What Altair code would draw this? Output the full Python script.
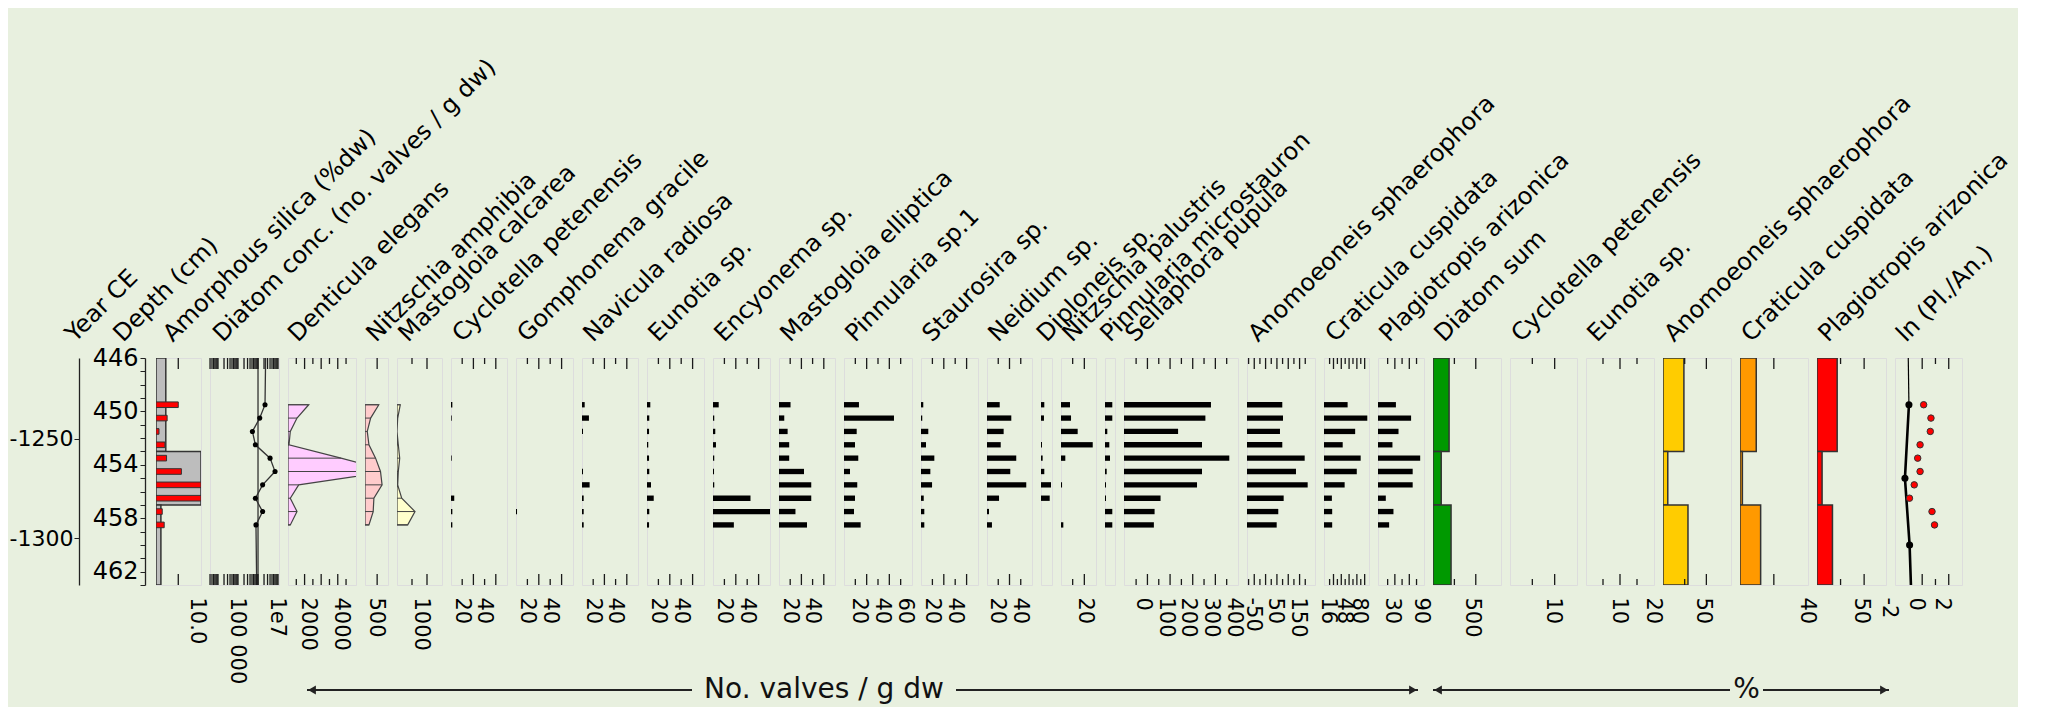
import altair as alt
import pandas as pd

FONT = "DejaVu Sans"
BG = "#e8f0df"
H = 227
GAP = 9
TS, TL = 6, 11
TICK_COLOR = "#1a1a1a"

# ---------------- data ----------------
depth = [449.5, 450.5, 451.5, 452.5, 453.5, 454.5, 455.5, 456.5, 457.5, 458.5]
zone_top = [446, 453, 457]
zone_bottom = [453, 457, 463]
depth_tick_values = list(range(446, 464))
depth_label_values = [446, 450, 454, 458, 462]
year_label_values = [-1250, -1300]

amorphous_silica = [5.0, 2.5, 0.67, 2.0, 2.37, 5.7, 10.1, 10.1, 1.4, 1.84]
amorphous_silica_zone = [2.2, 10.1, 1.1]
diatom_conc = [2.24e6, 1.22e6, 5.25e5, 7.4e5, 4.0e6, 7.1e6, 1.7e6, 7.4e5, 1.7e6, 7.9e5]
diatom_conc_ends = [2.4e6, 8.6e5]
diatom_conc_reference = [1e6]
denticula_elegans = [1248, 543, 139, 60, 3196, 6151, 645, 139, 543, 139]
nitzschia_amphibia = [569, 232, 93, 163, 435, 638, 703, 366, 337, 163]
mastogloia_calcarea = [110, 23, 0, 43, 90, 43, 23, 157, 600, 357]
cyclotella_petenensis = [1.2, 0.6, 0, 0, 0.6, 0, 0, 2.9, 1.2, 1.2]
gomphonema_gracile = [0, 0, 0, 0, 0, 0, 0, 0, 0.9, 0]
navicula_radiosa = [2.4, 6.2, 0.9, 0, 0, 0.9, 6.8, 1.5, 1.5, 1.5]
eunotia_sp = [2.9, 2.0, 1.8, 1.1, 1.8, 2.0, 3.5, 5.9, 2.0, 1.8]
encyonema_sp = [5.0, 1.1, 2.0, 2.6, 1.1, 0.9, 1.1, 32.9, 50.5, 18.3]
mastogloia_elliptica = [10.3, 4.7, 7.7, 9.1, 9.1, 22.3, 28.8, 28.8, 14.7, 25.0]
pinnularia_sp1 = [13.2, 44.1, 11.2, 9.7, 12.6, 5.3, 11.7, 9.7, 8.8, 14.7]
staurosira_sp = [2.0, 1.1, 6.4, 4.4, 11.7, 8.2, 9.7, 2.4, 2.9, 2.9]
neidium_sp = [11.3, 21.6, 14.8, 12.2, 26.0, 20.7, 34.9, 10.7, 1.8, 4.4]
diploneis_sp = [3.0, 2.7, 0, 0.9, 1.5, 3.0, 9.1, 7.9, 0, 0]
nitzschia_palustris = [7.7, 8.6, 14.3, 27.2, 3.7, 0, 0.9, 0, 0, 2.0]
pinnularia_microstauron = [7.3, 7.3, 2.3, 4.3, 5.0, 1.7, 1.0, 1.0, 7.3, 7.3]
sellaphora_pupula = [280.6, 256.0, 135.4, 241.0, 361.6, 241.0, 219.0, 58.0, 31.6, 28.5]
anomoeoneis_conc = [73.7, 76.8, 63.5, 73.7, 172.5, 134.1, 185.7, 79.8, 56.0, 49.0]
craticula_conc = [45.0, 85.4, 60.5, 34.9, 71.8, 63.8, 38.9, 12.7, 13.3, 13.3]
plagiotropis_conc = [32.2, 63.7, 37.6, 25.0, 82.6, 67.0, 67.0, 11.2, 27.1, 18.1]
diatom_sum = [188, 96, 211]
cyclotella_pct = [0, 0, 0]
eunotia_pct = [0, 0, 0]
anomoeoneis_pct = [24.1, 5.5, 28.8]
craticula_pct = [9.6, 1.4, 12.2]
plagiotropis_pct = [21.4, 5.4, 16.4]
ln_ratio = [0.11, 0.66, 0.61, -0.16, -0.34, -0.16, -0.6, -0.96, 0.74, 0.93]
ln_smooth_depth = [446, 449.5, 455, 460, 463]
ln_smooth = [-1.05, -1.0, -1.3, -0.95, -0.85]

DEPTH_SCALE = alt.Scale(domain=[446, 463], reverse=True, nice=False, zero=False)


def Y(f, axis=None):
    return alt.Y(f, type="quantitative", scale=DEPTH_SCALE, axis=axis)


def label_axis(values, offset, expr=None):
    kw = dict(orient="bottom", ticks=False, domain=False, grid=False,
              labelAngle=90, labelAlign="left", labelBaseline="middle", labelPadding=12,
              labelFont=FONT, labelFontSize=21, labelColor="black", labelOffset=offset,
              labelFlush=False, labelOverlap=False, labelBound=False, title=None, tickCount=100,
              labelExpr=expr if expr else "'' + datum.value")
    if values:
        kw["values"] = values
    else:
        kw["labels"] = False
    return alt.Axis(**kw)


def bars(vals, color="black", stroke=None, half=0.2):
    def f(X, base):
        df = pd.DataFrame({"d": depth, "v": vals})
        mk = dict(color=color, clip=True)
        if stroke:
            mk.update(stroke=stroke, strokeWidth=1)
        return (alt.Chart(df).transform_filter("datum.v > 0")
                .transform_calculate(d0=f"datum.d - {half}", d1=f"datum.d + {half}")
                .mark_rect(**mk)
                .encode(x=X("v"), x2=alt.value(0), y=Y("d0"), y2="d1:Q"))
    return f


def zones(vals, fill, axis_y=None):
    def f(X, base):
        df = pd.DataFrame({"top": zone_top, "bottom": zone_bottom, "v": vals})
        return (alt.Chart(df).transform_filter("datum.v > 0")
                .mark_rect(fill=fill, stroke="#333", strokeWidth=1.5, clip=True)
                .encode(x=X("v"), x2=alt.value(0), y=Y("top", axis_y), y2="bottom:Q"))
    return f


def curve(vals, fill):
    def f(X, base):
        df = pd.DataFrame({"d": depth, "v": vals})
        area = (alt.Chart(df).transform_calculate(b=f"{base}")
                .mark_area(orient="horizontal", fill=fill, stroke="#444", strokeWidth=1.2,
                           clip=True, fillOpacity=1, interpolate="linear")
                .encode(y=Y("d"), x=X("v"), x2="b:Q"))
        hatch = (alt.Chart(df).mark_rule(color="#444", strokeWidth=1, clip=True)
                 .encode(x=X("v"), x2=alt.value(0), y=Y("d")))
        return alt.layer(area, hatch)
    return f


def conc_content(X, base):
    ext = pd.DataFrame({"d": [446] + depth + [463],
                        "v": [diatom_conc_ends[0]] + diatom_conc + [diatom_conc_ends[1]]})
    pts = pd.DataFrame({"d": depth, "v": diatom_conc})
    ref = pd.DataFrame({"v": diatom_conc_reference})
    rule = alt.Chart(ref).mark_rule(color="#222", strokeWidth=1.2).encode(
        x=X("v"), y=alt.value(0), y2=alt.value(H))
    line = alt.Chart(ext).mark_line(color="#333", strokeWidth=1.3).encode(
        x=X("v"), y=Y("d"), order=alt.Order("d:Q"))
    dots = alt.Chart(pts).mark_circle(color="black", size=26, opacity=1).encode(x=X("v"), y=Y("d"))
    return alt.layer(rule, line, dots)


def ln_content(X, base):
    thin_df = pd.DataFrame({"d": ln_smooth_depth[:2], "v": ln_smooth[:2]})
    thick_df = pd.DataFrame({"d": ln_smooth_depth[1:], "v": ln_smooth[1:]})
    dots_df = pd.DataFrame({"d": ln_smooth_depth[1:4], "v": ln_smooth[1:4]})
    red_df = pd.DataFrame({"d": depth, "v": ln_ratio})
    thin = alt.Chart(thin_df).mark_line(color="black", strokeWidth=1.2).encode(
        x=X("v"), y=Y("d"), order=alt.Order("d:Q"))
    thick = alt.Chart(thick_df).mark_line(color="black", strokeWidth=2.6).encode(
        x=X("v"), y=Y("d"), order=alt.Order("d:Q"))
    bd = alt.Chart(dots_df).mark_circle(color="black", size=50, opacity=1).encode(x=X("v"), y=Y("d"))
    red = alt.Chart(red_df).mark_point(shape="circle", filled=True, fill="#ff0000", stroke="#333",
                                       strokeWidth=1, size=42, opacity=1).encode(x=X("v"), y=Y("d"))
    return alt.layer(thin, thick, bd, red)


def title_layer(text, dx):
    return (alt.Chart(pd.DataFrame({"t": [text]}))
            .mark_text(angle=315, align="left", baseline="alphabetic", font=FONT,
                       fontSize=24, color="black")
            .encode(text="t:N", x=alt.value(dx), y=alt.value(-15)))


def one_row():
    return pd.DataFrame({"a": [0]})


def annot_rule(x1, x2, y):
    return alt.Chart(one_row()).mark_rule(color="#222", strokeWidth=2.2).encode(
        x=alt.value(x1), x2=alt.value(x2), y=alt.value(y))


def annot_arrow(x, y, shape):
    return alt.Chart(one_row()).mark_point(shape=shape, filled=True, size=80, color="#222",
                                           opacity=1).encode(x=alt.value(x), y=alt.value(y))


def annot_text(x, y, text, size):
    return (alt.Chart(pd.DataFrame({"t": [text]}))
            .mark_text(font=FONT, fontSize=size, align="center", baseline="middle", color="#111")
            .encode(text="t:N", x=alt.value(x), y=alt.value(y)))


def panel(width, domain, content, title, short, long, labels, offset,
          stype="linear", expr=None, title_dx=None, extra=()):
    xs = alt.Scale(type=stype, domain=domain, nice=False, zero=False)
    ax = label_axis(labels, offset, expr)

    def X(f):
        return alt.X(f, type="quantitative", scale=xs, axis=ax)

    layers = [c(X, domain[0]) for c in content]
    for vals, ln in ((short, TS), (long, TL)):
        if vals:
            df = pd.DataFrame({"t": vals})
            layers.append(alt.Chart(df).mark_rule(color=TICK_COLOR, strokeWidth=1.3).encode(
                x=X("t"), y=alt.value(0), y2=alt.value(ln)))
            layers.append(alt.Chart(df).mark_rule(color=TICK_COLOR, strokeWidth=1.3).encode(
                x=X("t"), y=alt.value(H), y2=alt.value(H - ln)))
    if title_dx is None:
        title_dx = min(11, width / 2)
    layers.append(title_layer(title, title_dx))
    layers.extend(extra)
    return alt.layer(*layers).properties(width=width, height=H)


# ---------------- panels ----------------
depth_axis = alt.Axis(orient="left", offset=11, values=depth_tick_values, tickCount=100,
                      labelExpr="indexof([446,450,454,458,462], datum.value) >= 0 ? '' + datum.value : ''",
                      tickSize=5, tickColor="#222", domainColor="#222", domainWidth=1.3,
                      labelFont=FONT, labelFontSize=24, labelColor="black", labelPadding=2,
                      grid=False, title=None, labelBaseline="middle", labelBound=False, labelFlush=False,
                      labelOverlap=False)
year_axis = alt.Axis(orient="left", offset=77, values=year_label_values, tickCount=100,
                     labelExpr="'' + datum.value", tickSize=5, tickColor="#222",
                     domainColor="#222", domainWidth=1.3, labelFont=FONT, labelFontSize=22,
                     labelColor="black", labelPadding=1, grid=False, title=None,
                     labelBound=False, labelFlush=False, labelOverlap=False)
year_layer = alt.Chart(pd.DataFrame({"year": year_label_values})).mark_point(opacity=0).encode(
    y=alt.Y("year:Q", scale=alt.Scale(domain=[-1323.5, -1209.4], nice=False, zero=False), axis=year_axis))

silica = panel(45, [0, 10.1],
               [zones(amorphous_silica_zone, "#bdbdbd", axis_y=depth_axis),
                bars(amorphous_silica, "#ff0000", stroke="#333", half=0.21)],
               "Amorphous silica (%dw)", [], [5], [10], -4,
               expr="format(datum.value, '.1f')", title_dx=16.7,
               extra=[year_layer, title_layer("Year CE", -81), title_layer("Depth (cm)", -33)]
               ).resolve_scale(y="independent")

conc_ticks = [m * 10 ** k for k in range(3, 8) for m in range(1, 10)
              if 3981 <= m * 10 ** k <= 1.12e7]
conc = panel(69, [3981, 1.12e7], [conc_content], "Diatom conc. (no. valves / g dw)",
             [], conc_ticks, [1e5, 1e7], -2, stype="log",
             expr="datum.value == 100000 ? '100 000' : '1e7'", title_dx=12.7)

den_extra = [annot_rule(19, 404, 332), annot_arrow(24, 332, "triangle-left"),
             annot_text(536, 332, "No. valves / g dw", 28),
             annot_rule(668, 1130, 332), annot_arrow(1125, 332, "triangle-right")]
denticula = panel(68, [0, 4100], [curve(denticula_elegans, "#ffccff")], "Denticula elegans",
                  [500, 1500, 2500, 3500], [1000, 2000, 3000], [2000, 4000], -14,
                  title_dx=9.7, extra=den_extra)
n_amph = panel(23, [0, 947], [curve(nitzschia_amphibia, "#ffcccc")], "Nitzschia amphibia",
               [], [500], [500], -2)
m_calc = panel(45, [0, 1500], [curve(mastogloia_calcarea, "#ffffcc")], "Mastogloia calcarea",
               [500], [1000], [1000], -7)


def black_panel(width, domain, vals, title, short, long, labels, offset):
    return panel(width, domain, [bars(vals)], title, short, long, labels, offset)


cyc = black_panel(56, [0, 50], cyclotella_petenensis, "Cyclotella petenensis", [10, 30], [20, 40], [20, 40], -12)
gom = black_panel(57, [0, 50], gomphonema_gracile, "Gomphonema gracile", [10, 30], [20, 40], [20, 40], -12)
nav = black_panel(56, [0, 50], navicula_radiosa, "Navicula radiosa", [10, 30], [20, 40], [20, 40], -12)
eun = black_panel(57, [0, 50], eunotia_sp, "Eunotia sp.", [10, 30], [20, 40], [20, 40], -12)
enc = black_panel(57, [0, 50], encyonema_sp, "Encyonema sp.", [10, 30], [20, 40], [20, 40], -12)
mel = black_panel(56, [0, 50], mastogloia_elliptica, "Mastogloia elliptica", [10, 30], [20, 40], [20, 40], -12)
pin = black_panel(68, [0, 60], pinnularia_sp1, "Pinnularia sp.1", [10, 30, 50], [20, 40], [20, 40, 60], -8)
sta = black_panel(57, [0, 50], staurosira_sp, "Staurosira sp.", [10, 30], [20, 40], [20, 40], -12)
nei = black_panel(45, [0, 40], neidium_sp, "Neidium sp.", [10, 30], [20], [20, 40], -13)
dip = black_panel(11, [0, 10], diploneis_sp, "Diploneis sp.", [], [], [], 0)
npa = black_panel(35, [0, 30], nitzschia_palustris, "Nitzschia palustris", [10], [20], [20], 0)
pmi = black_panel(10, [0, 10], pinnularia_microstauron, "Pinnularia microstauron", [], [], [], 0)
sel = black_panel(114, [-103.5, 400], sellaphora_pupula, "Sellaphora pupula",
                  [-50, 50, 150, 250, 350], [0, 100, 200, 300], [0, 100, 200, 300, 400], -5)
ano = black_panel(68, [-82, 218], anomoeoneis_conc, "Anomoeoneis sphaerophora",
                  [-75, -25, 25, 75, 125, 175], [-50, 0, 50, 100, 150], [-50, 50, 150], -2)
cra = black_panel(45, [-3.5, 88.9], craticula_conc, "Craticula cuspidata",
                  [8, 24, 40, 56, 72], [16, 32, 48, 64, 80], [16, 48, 80], -6)
pla = black_panel(46, [-5, 90.5], plagiotropis_conc, "Plagiotropis arizonica",
                  [15, 45, 75], [30, 60], [30, 90], -3)

pct_extra = [annot_rule(0, 297, 332), annot_arrow(5, 332, "triangle-left"),
             annot_text(313.5, 332, "%", 28),
             annot_rule(330, 456, 332), annot_arrow(451, 332, "triangle-right")]
dsum = panel(68, [0, 795], [zones(diatom_sum, "#009900")], "Diatom sum", [250], [500], [500], -4,
             extra=pct_extra)
cyc_p = panel(67, [0, 15], [zones(cyclotella_pct, "#009900")], "Cyclotella petenensis", [5], [10], [10], -2)
eun_p = panel(68, [0, 20], [zones(eunotia_pct, "#009900")], "Eunotia sp.", [5, 15], [10], [10, 20], -2)
ano_p = panel(68, [0, 78.4], [zones(anomoeoneis_pct, "#ffcc00")], "Anomoeoneis sphaerophora", [25], [50], [50], -4)
cra_p = panel(68, [0, 40.2], [zones(craticula_pct, "#ff9900")], "Craticula cuspidata", [], [20], [40], -1)
pla_p = panel(69, [0, 73.2], [zones(plagiotropis_pct, "#ff0000")], "Plagiotropis arizonica", [25], [50], [50], -4)
lnp = panel(67, [-2.05, 3], [ln_content], "ln (Pl./An.)", [1], [0, 2], [-2, 0, 2], -7)

panels = [silica, conc, denticula, n_amph, m_calc, cyc, gom, nav, eun, enc, mel, pin, sta, nei,
          dip, npa, pmi, sel, ano, cra, pla, dsum, cyc_p, eun_p, ano_p, cra_p, pla_p, lnp]

chart = (alt.hconcat(*panels, spacing=GAP, bounds="flush")
         .resolve_scale(x="independent", y="independent")
         .properties(background=BG, padding={"left": 0, "top": 46, "right": 4, "bottom": 2})
         .configure_view(fill="white", stroke=None)
         .configure(font=FONT))

chart.save("out.html", embed_options={"renderer": "svg", "actions": False})
